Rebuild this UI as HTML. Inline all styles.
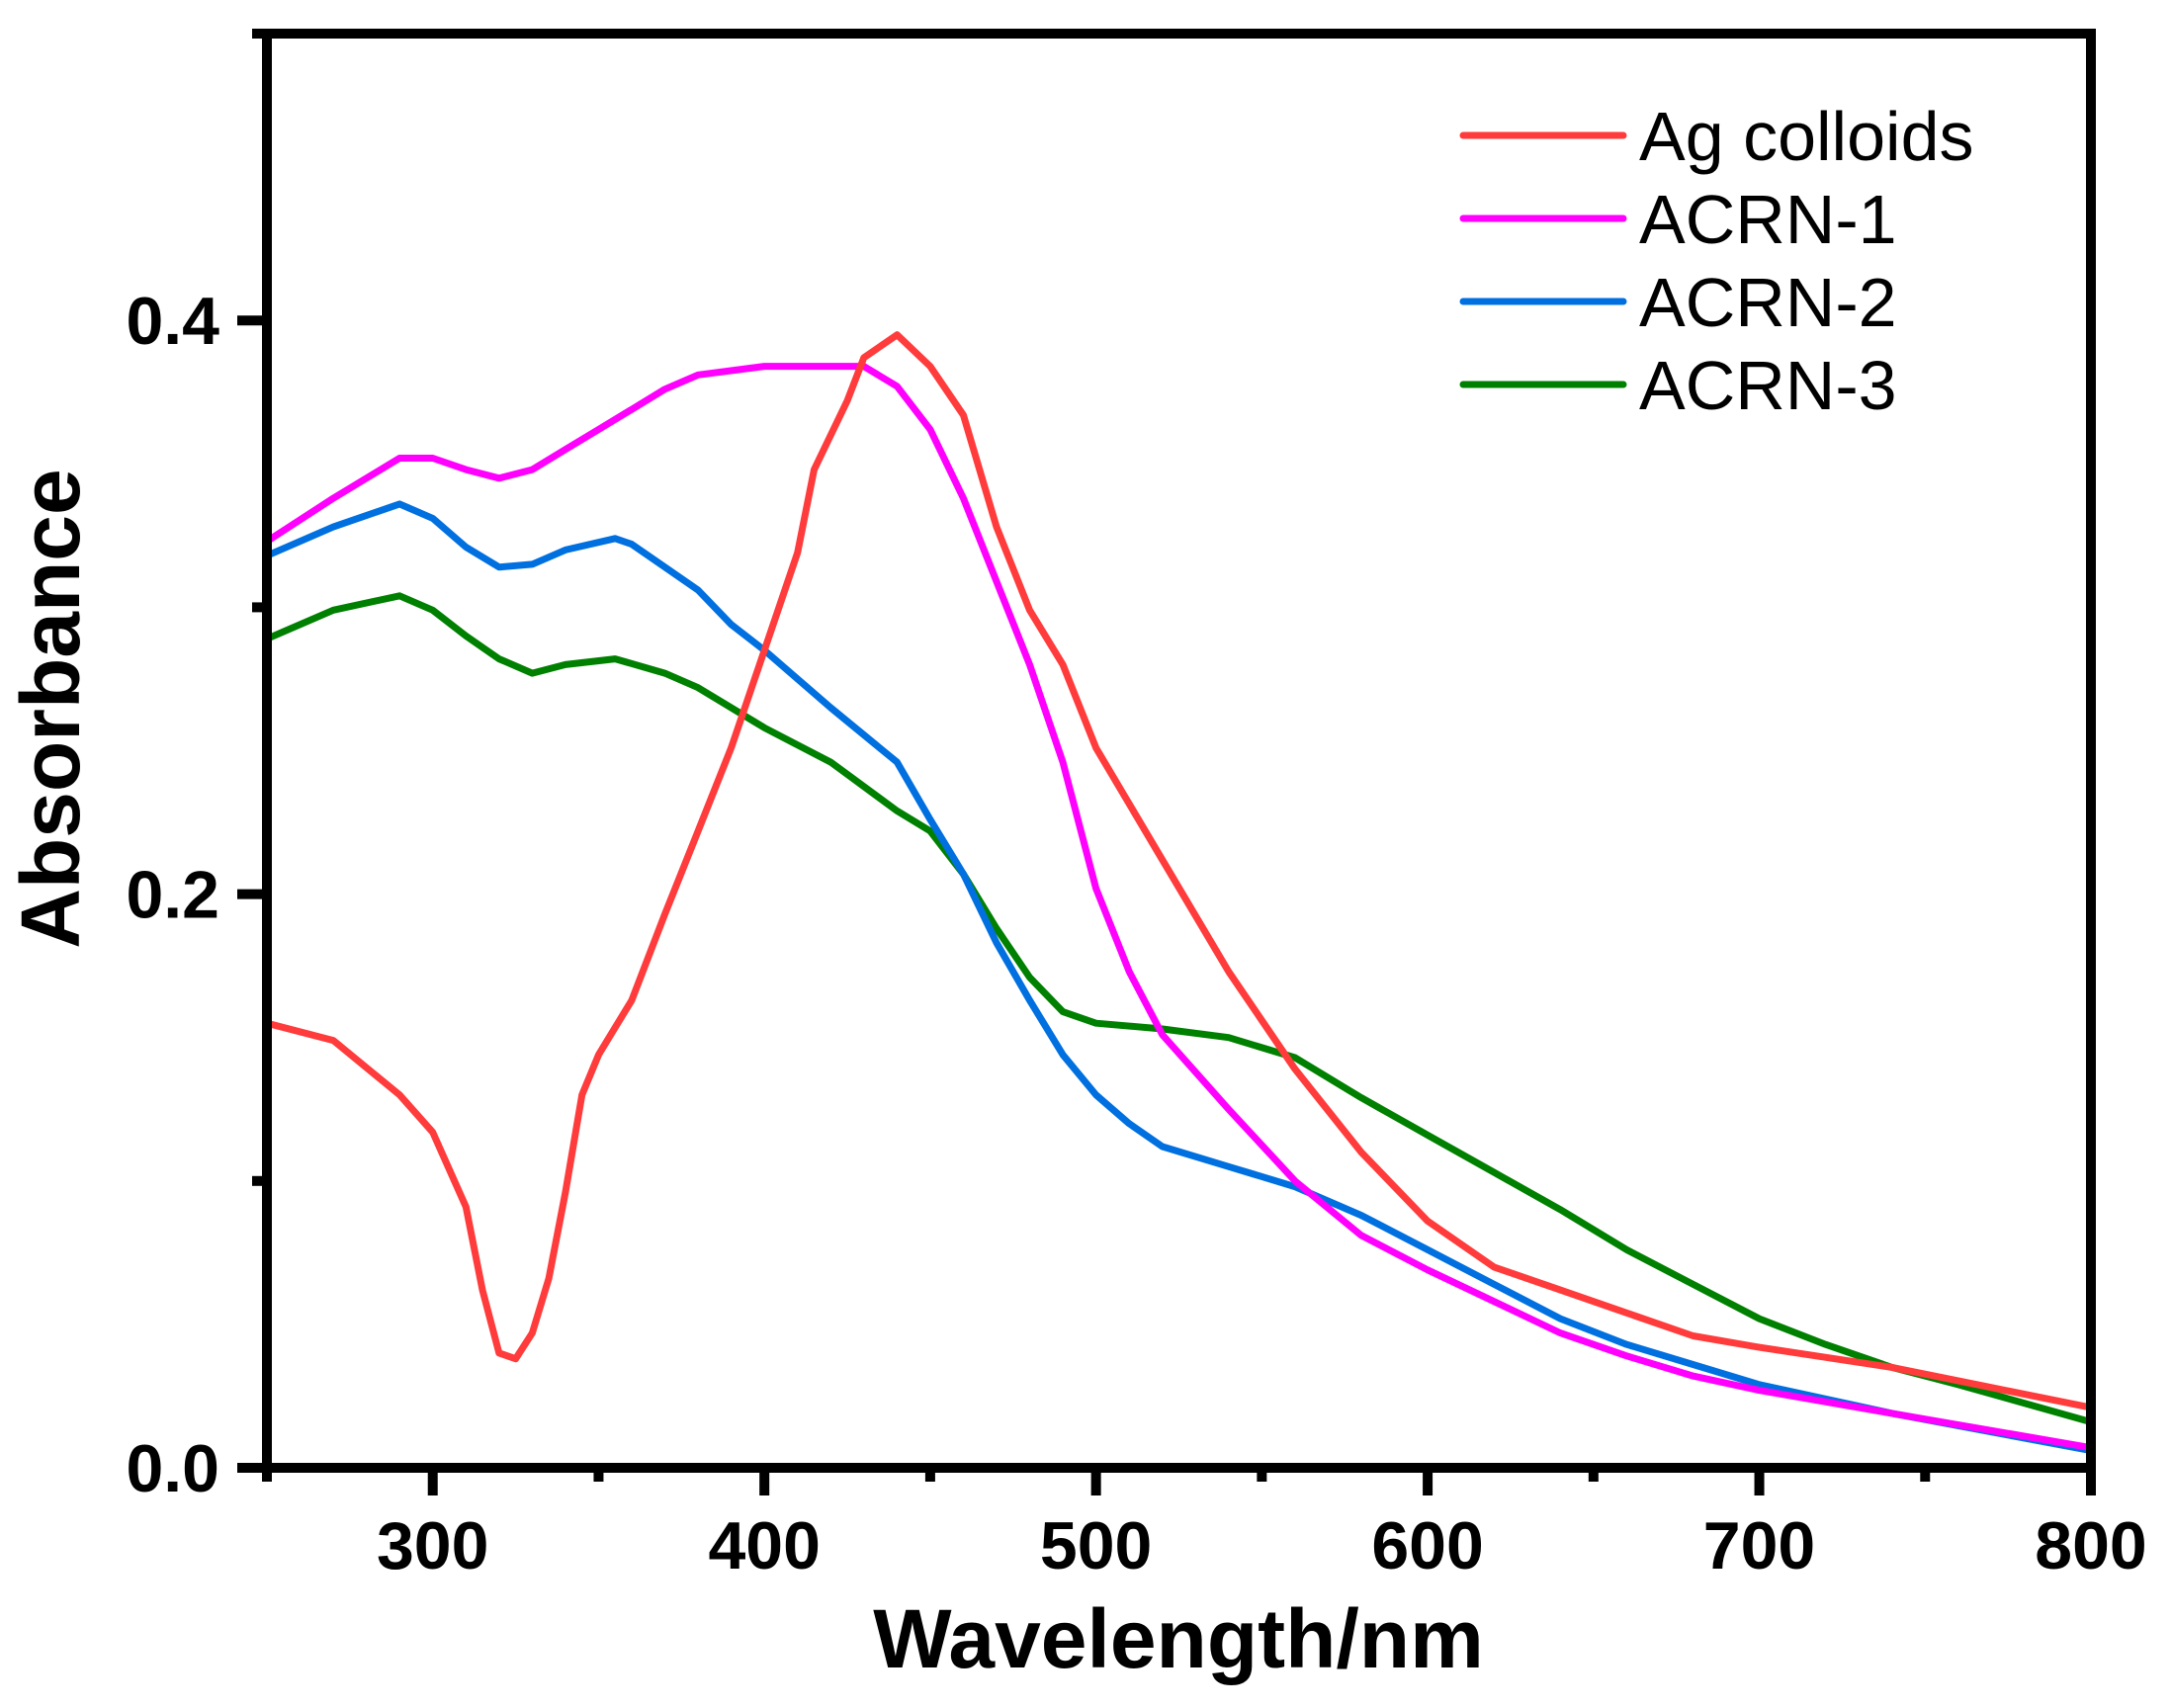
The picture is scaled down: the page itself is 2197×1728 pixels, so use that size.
<!DOCTYPE html>
<html><head><meta charset="utf-8"><style>
html,body{margin:0;padding:0;background:#fff;}
svg{display:block;font-family:"Liberation Sans",Arial,sans-serif;}
</style></head><body>
<svg id="chart" width="2197" height="1728" viewBox="0 0 2197 1728" xmlns="http://www.w3.org/2000/svg">
<g id="series"></g>
<g id="axes"></g>
<text x="1192" y="1687" text-anchor="middle" font-size="84" font-weight="bold">Wavelength/nm</text>
<text transform="translate(80,717) rotate(-90)" text-anchor="middle" font-size="84" font-weight="bold">Absorbance</text>
<g id="legend"></g>
</svg>
<script>
const agX=[250,270,290,300,310,315,320,325,330,335,340,345,350,360,370,380,390,400,410,415,425,430,440,450,460,470,480,490,500,520,540,560,580,600,620,640,660,680,700,740,800];
const agY=[0.155,0.149,0.13,0.117,0.091,0.062,0.040,0.038,0.047,0.066,0.096,0.13,0.144,0.163,0.193,0.222,0.251,0.285,0.319,0.348,0.372,0.387,0.395,0.384,0.367,0.328,0.299,0.280,0.251,0.212,0.173,0.139,0.110,0.086,0.070,0.062,0.054,0.046,0.042,0.035,0.021];
const a1X=[250,270,290,300,310,320,330,340,350,360,370,380,400,420,430,440,450,460,470,480,490,500,510,520,540,560,580,600,620,640,660,680,700,740,800];
const a1Y=[0.323,0.338,0.352,0.352,0.348,0.345,0.348,0.355,0.362,0.369,0.376,0.381,0.384,0.384,0.384,0.377,0.362,0.338,0.309,0.280,0.246,0.202,0.173,0.151,0.125,0.100,0.081,0.069,0.058,0.047,0.039,0.032,0.027,0.019,0.007];
const a2X=[250,270,290,300,310,320,330,340,355,360,370,380,390,400,420,440,450,460,470,480,490,500,510,520,540,560,580,600,620,640,660,680,700,740,800];
const a2Y=[0.318,0.328,0.336,0.331,0.321,0.314,0.315,0.320,0.324,0.322,0.314,0.306,0.294,0.285,0.265,0.246,0.226,0.207,0.183,0.163,0.144,0.130,0.120,0.112,0.105,0.098,0.088,0.076,0.064,0.052,0.043,0.036,0.029,0.019,0.006];
const a3X=[250,270,290,300,310,320,330,340,355,370,380,400,420,440,450,460,470,480,490,500,520,540,560,580,600,620,640,660,680,700,720,740,760,800];
const a3Y=[0.289,0.299,0.304,0.299,0.290,0.282,0.277,0.280,0.282,0.277,0.272,0.258,0.246,0.229,0.222,0.207,0.188,0.171,0.159,0.155,0.153,0.150,0.143,0.129,0.116,0.103,0.090,0.076,0.064,0.052,0.043,0.035,0.029,0.016];
const seriesNames=["Ag colloids","ACRN-1","ACRN-2","ACRN-3"];
const xTicks=[300,400,500,600,700,800];
const xMinor=[250,350,450,550,650,750];
const yTicks=[0.0,0.2,0.4];
const yTickLabels=["0.0","0.2","0.4"];
const yMinor=[0.1,0.3,0.5];

const NS="http://www.w3.org/2000/svg";
const X0=270,X1=2115,Y0=1485,Y1=34,xmin=250,xmax=800,ymin=0,ymax=0.5;
function sx(v){return X0+(v-xmin)/(xmax-xmin)*(X1-X0);}
function sy(v){return Y0-(v-ymin)/(ymax-ymin)*(Y0-Y1);}
function mk(tag,attrs,parent){const e=document.createElementNS(NS,tag);for(const k in attrs)e.setAttribute(k,attrs[k]);parent.appendChild(e);return e;}
const colors=["#ff3b3b","#ff00ff","#0070e0","#008000"];
const data=[[agX,agY],[a1X,a1Y],[a2X,a2Y],[a3X,a3Y]];
const sg=document.getElementById('series');
const slugs=["ag-colloids-line","acrn-1-line","acrn-2-line","acrn-3-line"];
for(let i=3;i>=0;i--){
  const [xs,ys]=data[i];
  let d=xs.map((x,j)=>(j?'L':'M')+sx(x).toFixed(1)+','+sy(ys[j]).toFixed(1)).join(' ');
  const p=mk('path',{d:d,fill:'none',stroke:colors[i],'stroke-width':7,'stroke-linejoin':'round'},sg);
  
  
}
const ag=document.getElementById('axes');
const frame=mk('rect',{x:X0,y:Y1,width:X1-X0,height:Y0-Y1,fill:'none',stroke:'#000','stroke-width':10},ag);


xTicks.forEach(v=>{
  const t=mk('line',{x1:sx(v),x2:sx(v),y1:Y0,y2:Y0+28,stroke:'#000','stroke-width':10},ag);
  
  
  const l=mk('text',{x:sx(v),y:1587,'text-anchor':'middle','font-size':68,'font-weight':'bold'},ag);
  l.textContent=String(v);
  
  
});
xMinor.forEach(v=>{
  const t=mk('line',{x1:sx(v),x2:sx(v),y1:Y0,y2:Y0+14,stroke:'#000','stroke-width':10},ag);
  
  
});
yTicks.forEach((v,i)=>{
  const t=mk('line',{x1:X0-30,x2:X0,y1:sy(v),y2:sy(v),stroke:'#000','stroke-width':10},ag);
  
  
  const l=mk('text',{x:222,y:sy(v)+24,'text-anchor':'end','font-size':68,'font-weight':'bold'},ag);
  l.textContent=yTickLabels[i];
  
  
});
yMinor.forEach(v=>{
  const t=mk('line',{x1:X0-15,x2:X0,y1:sy(v),y2:sy(v),stroke:'#000','stroke-width':10},ag);
  
  
});
const lg=document.getElementById('legend');
seriesNames.forEach((n,i)=>{
  const y=137+i*84;
  const ln=mk('line',{x1:1480,x2:1642,y1:y,y2:y,stroke:colors[i],'stroke-width':7,'stroke-linecap':'round'},lg);
  
  
  const t=mk('text',{x:1658,y:y+25,'font-size':70},lg);
  t.textContent=n;
  
  
});
</script>
</body></html>
